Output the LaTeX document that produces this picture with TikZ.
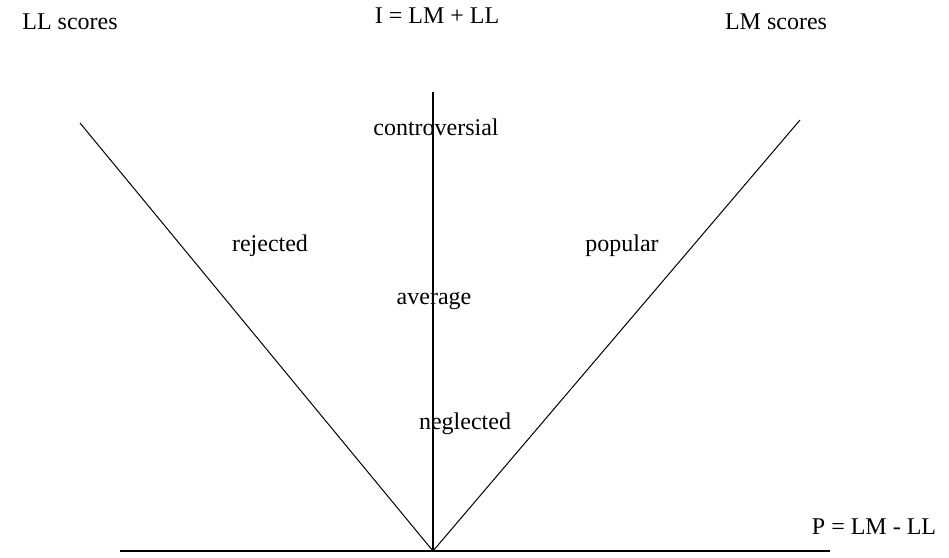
\documentclass[tikz,border=0pt]{standalone}
\usepackage{fontspec}
\setmainfont{Liberation Serif}

\begin{document}
\begin{tikzpicture}[x=1pt, y=-1pt, font=\fontsize{24}{26}\selectfont,
  axisline/.style={line width=1.5pt},
  slope/.style={line width=1pt},
  label/.style={inner sep=1pt}]
  \useasboundingbox (0,0) rectangle (949,557);
  % Axes: P along the bottom, I straight up, the two score lines as a V.
  \coordinate (o) at (433,551);
  \coordinate (pleft) at (120,551);
  \coordinate (pright) at (830,551);
  \coordinate (itop) at (433,92);
  \coordinate (lltop) at (80,123);
  \coordinate (lmtop) at (800,120);
  \draw[axisline] (pleft) -- (pright);
  \draw[axisline] (o) -- (itop);
  \draw[slope] (o) -- (lltop);
  \draw[slope] (o) -- (lmtop);
  % Axis titles
  \node[label] (llscores) at (70,22) {LL scores};
  \node[label] (imp) at (437,16) {I = LM + LL};
  \node[label] (lmscores) at (776,22) {LM scores};
  \node[label] (pref) at (874,527) {P = LM - LL};
  % Status groups
  \node[label] (contro) at (436,127) {controversial};
  \node[label] (reject) at (270,246) {rejected};
  \node[label] (popular) at (622,246) {popular};
  \node[label] (average) at (434,301) {average};
  \node[label] (neglect) at (465,424) {neglected};
\end{tikzpicture}
\end{document}
